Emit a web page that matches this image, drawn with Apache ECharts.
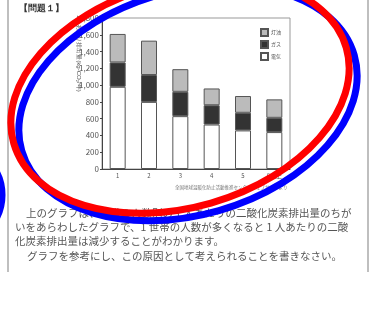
<!DOCTYPE html>
<html>
<head>
<meta charset="utf-8">
<script src="https://cdn.jsdelivr.net/npm/echarts@6/dist/echarts.min.js"></script>
<style>
  html, body { margin: 0; padding: 0; background: #fff; }
  #chart { width: 382px; height: 309px; }
</style>
</head>
<body>
<div id="chart"></div>
<script>
const categories = ['1', '2', '3', '4', '5', '6以上']
const denki = [980, 800, 630, 530, 460, 440]
const gas = [290, 320, 290, 230, 210, 170]
const touyu = [340, 410, 270, 200, 200, 220]
const legendNames = ['灯油', 'ガス', '電気']

const bodyLines = [
  '上のグラフは、世帯の人数別の 1 人あたりの二酸化炭素排出量のちが',
  'いをあらわしたグラフで、1 世帯の人数が多くなると 1 人あたりの二酸',
  '化炭素排出量は減少することがわかります。',
  'グラフを参考にし、この原因として考えられることを書きなさい。'
]

const font = '"Noto Sans CJK JP", "Noto Sans", sans-serif'
const chart = echarts.init(document.getElementById('chart'))

const barStyle = function(color) {
  return { color: color, borderColor: '#555', borderWidth: 1 }
}

const option = {
  animation: false,
  backgroundColor: '#fff',
  textStyle: { fontFamily: font },
  grid: {
    left: 102,
    right: 92,
    top: 18,
    bottom: 140,
    show: true,
    borderColor: '#999',
    borderWidth: 1
  },
  legend: {
    data: legendNames,
    orient: 'vertical',
    left: 255,
    top: 23,
    itemWidth: 7,
    itemHeight: 7,
    itemGap: 3,
    icon: 'rect',
    textStyle: { fontSize: 5, color: '#555', padding: [0, 0, 0, -2] }
  },
  xAxis: {
    type: 'category',
    data: categories,
    axisTick: { show: false },
    axisLine: { lineStyle: { color: '#444', width: 1 } },
    axisLabel: { fontSize: 6, color: '#555', margin: 4 }
  },
  yAxis: {
    type: 'value',
    min: 0,
    max: 1800,
    interval: 200,
    splitLine: { show: false },
    axisLine: { show: true, lineStyle: { color: '#444', width: 1 } },
    axisTick: { show: true, length: 2, lineStyle: { color: '#444' } },
    axisLabel: {
      fontSize: 8,
      color: '#555',
      margin: 3,
      formatter: function(v) { return v.toLocaleString('en-US') }
    }
  },
  series: [{
    name: '電気',
    type: 'bar',
    stack: 'a',
    barWidth: 16,
    itemStyle: barStyle('#fff'),
    data: denki
  }, {
    name: 'ガス',
    type: 'bar',
    stack: 'a',
    barWidth: 16,
    itemStyle: barStyle('#333'),
    data: gas
  }, {
    name: '灯油',
    type: 'bar',
    stack: 'a',
    barWidth: 16,
    itemStyle: barStyle('#bbb'),
    data: touyu
  }],
  graphic: [
    // page frame
    { type: 'line', shape: { x1: 8, y1: 0, x2: 8, y2: 272 }, style: { stroke: '#aaa', lineWidth: 1.5 } },
    { type: 'line', shape: { x1: 368, y1: 0, x2: 368, y2: 272 }, style: { stroke: '#aaa', lineWidth: 1.5 } },
    { type: 'text', x: 19, y: 4, style: { text: '【問題１】', fontSize: 9, fontWeight: 'bold', fill: '#333', font: 'bold 9px ' + font } },
    {
      type: 'text', x: 79, y: 15, rotation: -Math.PI / 2,
      style: { text: '1人あたり排出量(kg-CO₂/年)', fontSize: 6, fill: '#555', verticalAlign: 'middle', font: '6px ' + font }
    },
    {
      type: 'text', x: 175, y: 185,
      style: { text: '全国地球温暖化防止活動推進センターウェブサイトより', fill: '#777', font: '4.5px ' + font }
    },
    { type: 'text', x: 26, y: 208, style: { text: bodyLines[0], fill: '#555', font: '10.5px ' + font } },
    { type: 'text', x: 15, y: 222, style: { text: bodyLines[1], fill: '#555', font: '10.5px ' + font } },
    { type: 'text', x: 15, y: 236, style: { text: bodyLines[2], fill: '#555', font: '10.5px ' + font } },
    { type: 'text', x: 27, y: 251, style: { text: bodyLines[3], fill: '#555', font: '10.5px ' + font } },
    // pen marks drawn over the scan
    {
      type: 'ellipse', x: -45, y: 195, z: 100,
      shape: { cx: 0, cy: 0, rx: 47, ry: 48 },
      style: { fill: 'none', stroke: '#0000ff', lineWidth: 7 }
    },
    {
      type: 'ellipse', x: 188, y: 103, rotation: 0.28, z: 100,
      shape: { cx: 0, cy: 0, rx: 173, ry: 112 },
      style: { fill: 'none', stroke: '#0000ff', lineWidth: 7 }
    },
    {
      type: 'ellipse', x: 180, y: 95.5, rotation: 0.28, z: 101,
      shape: { cx: 0, cy: 0, rx: 173, ry: 112 },
      style: { fill: 'none', stroke: '#ff0000', lineWidth: 7 }
    }
  ]
}

chart.setOption(option)
</script>
</body>
</html>
